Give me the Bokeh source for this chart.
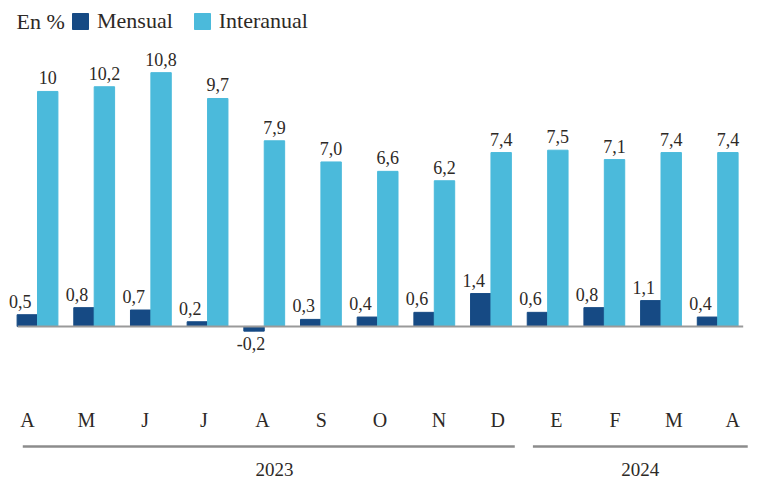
import numpy as np
from bokeh.plotting import figure
from bokeh.models import Range1d, Legend, LegendItem, Label, ColumnDataSource
from bokeh.core.properties import value
from bokeh.embed import file_html
from bokeh.resources import INLINE

months = ["A", "M", "J", "J", "A", "S", "O", "N", "D", "E", "F", "M", "A"]
years = ["2023", "2024"]
year_counts = [9, 4]
mensual = [0.5, 0.8, 0.7, 0.2, -0.2, 0.3, 0.4, 0.6, 1.4, 0.6, 0.8, 1.1, 0.4]
interanual = [10.0, 10.2, 10.8, 9.7, 7.9, 7.0, 6.6, 6.2, 7.4, 7.5, 7.1, 7.4, 7.4]

DARK = "#164a84"
LIGHT = "#4bbadb"
TXT = "#2d2926"
FONT = "Liberation Serif"

def fmt(v):
    return f"{v:.1f}".replace(".", ",")

lbl_mens = [fmt(v) for v in mensual]
lbl_inter = [fmt(v) for v in interanual]
lbl_inter[0] = "10"

n = len(months)
idx = np.arange(n)
bw = 0.36
xd = idx - bw / 2
xl = idx + bw / 2

W, H = 758, 482
p = figure(width=W, height=H, output_backend="svg", toolbar_location=None,
           x_range=Range1d(-0.653, 12.72), y_range=Range1d(-6.64, 13.87),
           x_axis_type=None, y_axis_type=None, min_border=0)
p.extra_x_ranges = {"m": Range1d(-0.46, 12.44)}
p.grid.visible = False
p.outline_line_color = None
p.background_fill_color = "white"

src_d = ColumnDataSource(dict(x=xd, top=mensual))
src_l = ColumnDataSource(dict(x=xl, top=interanual, lbl=lbl_inter))

r1 = p.vbar(x="x", top="top", bottom=0, width=bw, color=DARK, source=src_d)
r2 = p.vbar(x="x", top="top", bottom=0, width=bw, color=LIGHT, source=src_l)

# baseline
p.segment(x0=[-0.35], y0=[0], x1=[n - 1 + 0.45], y1=[0], line_color="#9a9a9a", line_width=2)

# value labels
pos = [i for i, v in enumerate(mensual) if v >= 0]
neg = [i for i, v in enumerate(mensual) if v < 0]
p.text(x=[xd[i] for i in pos], y=[mensual[i] for i in pos], text=[lbl_mens[i] for i in pos],
       text_align="center", text_baseline="bottom", x_offset=-7, y_offset=-7,
       text_font=value(FONT), text_font_size="18px", text_color=TXT)
p.text(x=[xd[i] for i in neg], y=[mensual[i] for i in neg], text=[lbl_mens[i] for i in neg],
       text_align="center", text_baseline="top", x_offset=-3, y_offset=6,
       text_font=value(FONT), text_font_size="18px", text_color=TXT)
p.text(x="x", y="top", text="lbl", source=src_l,
       text_align="center", text_baseline="bottom", y_offset=-7,
       text_font=value(FONT), text_font_size="18px", text_color=TXT)

# month labels
p.text(x=idx, y=[-4.0] * n, text=months, text_align="center", text_baseline="middle",
       x_range_name="m",
       text_font=value(FONT), text_font_size="20px", text_color=TXT)

# year brackets
starts = np.cumsum([0] + year_counts[:-1])
ends = starts + np.array(year_counts) - 1
x0s = starts - 0.26
x1s = ends + np.array([0.42, 0.53])
p.segment(x0=x0s, y0=[-5.11] * len(years), x1=x1s, y1=[-5.11] * len(years),
          line_color="#8c8c8c", line_width=2.5)
p.text(x=(x0s + x1s) / 2 + np.array([0.1, 0.0]), y=[-6.1] * len(years), text=years,
       text_align="center", text_baseline="middle",
       text_font=value(FONT), text_font_size="19px", text_color=TXT)

# legend
legend = Legend(items=[LegendItem(label="Mensual", renderers=[r1]),
                       LegendItem(label="Interanual", renderers=[r2])],
                orientation="horizontal", location=(70, H - 34),
                border_line_alpha=0, background_fill_alpha=0, padding=0, margin=0,
                spacing=19, glyph_width=20, glyph_height=20, label_standoff=7,
                label_text_font=FONT, label_text_font_size="22px", label_text_color=TXT)
p.add_layout(legend)
p.add_layout(Label(x=16, y=H - 21, x_units="screen", y_units="screen", text="En %",
                   text_font=FONT, text_font_size="22px", text_color=TXT,
                   text_baseline="middle"))

open("out.html", "w").write(file_html(p, INLINE))
